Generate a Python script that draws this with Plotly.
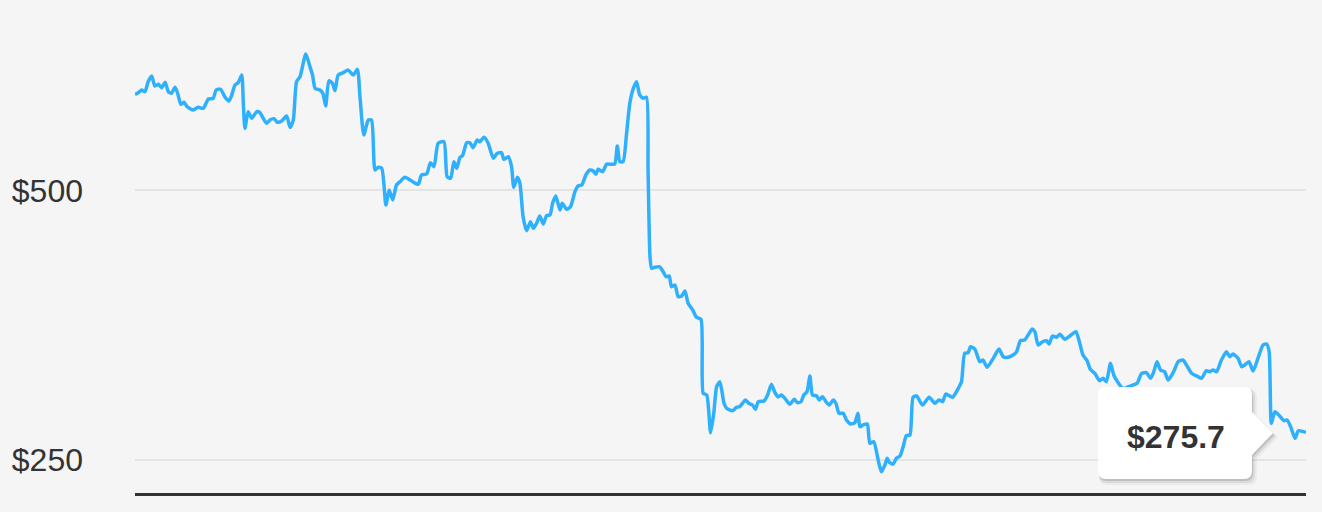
import plotly.graph_objects as go

# price history (day index, closing price in $)
days = [0.0, 1.0, 2.1, 3.1, 4.1, 5.2, 6.2, 7.3, 8.3, 9.4, 10.4, 11.4, 12.5, 13.3, 14.3, 15.3, 16.3, 18.2, 19.7, 21.3,
        22.9, 24.4, 25.3, 26.7, 28.1, 29.3, 30.2, 31.2, 32.2, 33.3, 33.8, 34.3, 35.3, 36.4, 38.0, 39.0, 40.0, 41.1, 42.1, 43.4,
        44.4, 45.8, 47.3, 48.4, 49.4, 50.4, 51.5, 53.3, 54.6, 55.4, 56.2, 57.7, 58.6, 59.5, 60.5, 61.6, 62.4, 63.4, 65.0, 66.5,
        68.1, 69.4, 70.2, 71.4, 72.8, 73.8, 74.9, 75.9, 77.0, 78.3, 79.3, 80.4, 81.6, 82.7, 84.2, 86.3, 88.4, 89.4, 91.0, 92.2,
        93.3, 94.6, 96.4, 97.4, 98.5, 99.5, 100.4, 101.4, 102.2, 103.5, 104.5, 105.5, 106.8, 107.6, 108.9, 110.2, 111.8, 113.0, 114.4, 115.1,
        116.5, 117.5, 118.2, 119.3, 120.1, 121.1, 122.2, 123.4, 124.3, 125.3, 126.3, 127.4, 128.4, 129.5, 130.3, 131.3, 132.6, 133.3, 134.7, 135.9,
        137.3, 138.3, 139.4, 140.7, 141.9, 143.0, 143.8, 144.5, 145.9, 147.2, 148.4, 149.7, 150.5, 151.3, 152.3, 153.4, 154.4, 155.5, 156.5, 157.5,
        158.6, 159.6, 160.1, 160.7, 161.2, 162.2, 163.6, 164.8, 165.7, 166.7, 167.4, 168.5, 169.5, 170.6, 171.6, 172.6, 174.0, 175.2, 176.6, 177.3,
        178.4, 179.6, 180.6, 181.5, 182.5, 183.8, 184.6, 186.5, 187.7, 188.7, 190.5, 191.5, 192.7, 193.6, 194.5, 196.3, 197.4, 198.6, 199.7, 200.7,
        201.7, 202.8, 204.3, 205.7, 206.7, 207.8, 208.7, 209.7, 210.6, 211.4, 212.7, 213.5, 214.5, 215.6, 216.6, 217.9, 218.7, 219.7, 221.0, 222.0,
        223.3, 224.6, 225.6, 226.2, 227.2, 228.5, 229.3, 230.5, 231.9, 232.9, 234.0, 234.7, 235.5, 236.6, 237.6, 238.7, 239.7, 240.7, 241.8, 242.8,
        243.9, 245.7, 247.8, 249.6, 250.9, 252.0, 253.0, 255.1, 256.9, 257.9, 258.9, 260.0, 260.7, 262.1, 263.6, 264.6, 265.9, 267.8, 269.6, 270.9,
        272.4, 274.0, 275.1, 276.3, 277.6, 278.7, 280.0, 280.8, 281.8, 283.2, 284.4, 285.2, 286.3, 287.5, 288.6, 290.1, 291.7, 293.6, 294.8, 295.8,
        297.1, 298.1, 299.5, 301.0, 302.1, 303.1, 304.4, 305.4, 306.8, 308.2, 309.8, 311.5, 312.7, 314.1, 315.6, 316.9, 317.9, 318.9, 320.0, 321.3,
        322.4, 324.1, 325.5, 327.0, 328.1, 329.7, 331.7, 332.8, 334.3, 335.4, 336.4, 337.5, 339.0, 340.6, 341.6, 342.6, 344.2, 345.3, 346.3, 347.6,
        348.9, 350.4, 352.0, 353.1, 353.9, 354.6, 355.7, 357.2, 358.5, 359.5, 360.6, 362.0, 363.0, 364.6, 365.4]

prices = [589.2, 590.7, 593.2, 591.6, 600.9, 606.2, 596.9, 598.5, 595.4, 600.4, 591.6, 590.2, 595.7, 590.2, 580.0, 581.8, 577.7, 574.7, 577.2, 576.2,
          584.9, 585.5, 593.2, 593.9, 586.5, 583.0, 588.6, 597.9, 600.0, 607.1, 580.9, 557.7, 573.1, 567.0, 573.1, 572.2, 567.0, 562.3, 565.4, 566.6,
          563.3, 564.5, 569.1, 558.6, 565.4, 600.9, 605.6, 626.6, 614.8, 607.1, 594.8, 593.2, 590.2, 578.4, 601.8, 599.4, 592.6, 607.1, 609.3, 611.8,
          607.1, 612.4, 587.0, 551.5, 565.4, 565.4, 519.0, 521.5, 520.6, 486.5, 500.5, 491.2, 505.1, 508.2, 512.2, 508.8, 505.8, 514.4, 515.3, 525.8,
          522.1, 543.8, 545.3, 512.8, 511.3, 526.7, 520.6, 530.8, 532.3, 544.3, 544.3, 539.7, 546.8, 545.3, 549.3, 543.8, 529.9, 534.5, 535.1, 528.9,
          531.4, 522.1, 503.0, 512.2, 506.7, 475.7, 462.7, 471.1, 464.9, 469.6, 476.3, 468.9, 476.6, 477.3, 488.1, 494.9, 481.9, 488.1, 482.6, 485.0,
          498.9, 504.2, 505.1, 514.4, 519.0, 518.1, 515.0, 519.7, 517.4, 524.6, 524.3, 524.6, 541.3, 526.7, 526.7, 553.1, 580.9, 594.8, 600.9, 588.6,
          585.5, 586.5, 519.0, 438.6, 427.8, 428.8, 429.3, 424.7, 420.0, 420.7, 410.8, 412.3, 401.5, 402.1, 406.8, 395.4, 389.2, 382.4, 380.5, 311.9,
          310.3, 275.3, 293.3, 318.0, 322.6, 302.6, 298.0, 295.7, 298.9, 299.5, 305.7, 302.6, 301.0, 297.0, 304.1, 304.7, 310.3, 320.2, 312.4, 308.7,
          310.3, 307.2, 301.7, 306.3, 303.2, 304.1, 310.3, 313.4, 327.9, 310.3, 309.4, 305.7, 308.7, 304.1, 301.0, 305.7, 302.6, 293.3, 293.3, 287.1,
          283.4, 284.6, 293.3, 280.9, 282.5, 283.4, 265.5, 267.0, 250.0, 239.2, 245.4, 251.6, 247.5, 246.3, 251.6, 253.7, 262.4, 272.6, 273.2, 308.2,
          309.4, 301.0, 308.2, 302.6, 305.7, 304.1, 311.2, 308.2, 316.5, 322.6, 349.0, 349.5, 355.1, 352.7, 341.2, 342.8, 336.0, 344.3, 353.0, 345.8,
          345.3, 347.4, 350.5, 360.7, 361.3, 366.0, 371.5, 369.0, 356.7, 359.7, 360.7, 357.6, 365.0, 363.8, 366.6, 362.0, 365.0, 369.0, 358.3, 347.4,
          342.1, 334.1, 330.4, 323.6, 325.8, 322.6, 339.7, 328.9, 321.7, 316.5, 317.7, 319.6, 321.2, 330.4, 331.0, 325.8, 331.9, 341.2, 333.5, 331.9,
          324.2, 331.9, 341.2, 342.8, 338.1, 330.4, 327.3, 325.8, 332.9, 331.9, 333.5, 331.9, 342.8, 350.5, 345.8, 348.3, 344.3, 336.6, 338.1, 341.2,
          332.6, 344.3, 356.7, 357.6, 350.5, 284.0, 294.8, 290.8, 286.5, 287.1, 280.9, 270.1, 277.2, 276.3, 275.7]

tick_vals = [250, 500]
tick_text = ['$250', '$500']
tooltip_text = '$275.7'

W, H = 1322, 512
L, R, T, B = 135, 16, 0, 19
PW, PH = W - L - R, H - T - B


def px(x):
    return (x - L) / PW


def py(y):
    return (H - B - y) / PH


def tip_path(dx=0, dy=0, grow=0):
    # rounded tooltip box with a pointer on its right side, in screen pixels
    x0, x1, y0, y1 = 1098 - grow, 1252 + grow, 387 - grow, 479 + grow
    pts = [('M', x0 + 8, y0), ('L', x1 - 8, y0), ('Q', x1, y0, x1, y0 + 8), ('L', x1, 412),
           ('L', 1273 + grow, 433), ('L', x1, 455), ('L', x1, y1 - 8), ('Q', x1, y1, x1 - 8, y1),
           ('L', x0 + 8, y1), ('Q', x0, y1, x0, y1 - 8), ('L', x0, y0 + 8), ('Q', x0, y0, x0 + 8, y0)]
    out = []
    for p in pts:
        cmd, coords = p[0], p[1:]
        xy = []
        for i in range(0, len(coords), 2):
            xy.append(f'{px(coords[i] + dx):.5f},{py(coords[i + 1] + dy):.5f}')
        out.append(cmd + ' '.join(xy))
    return ' '.join(out) + ' Z'


fig = go.Figure(go.Scatter(
    x=days, y=prices, mode='lines',
    line=dict(color='#2fb0fc', width=3.5, shape='spline', smoothing=0.6),
    hoverinfo='skip'
))

shapes = []
for dx, dy, g, a in [(3, 4, 2, 0.04), (2, 3, 1, 0.07), (1, 2, 0, 0.12)]:
    shapes.append(dict(type='path', xref='paper', yref='paper', path=tip_path(dx, dy, g),
                       fillcolor=f'rgba(0,0,0,{a})', line=dict(width=0), layer='above'))
shapes.append(dict(type='path', xref='paper', yref='paper', path=tip_path(),
                   fillcolor='white', line=dict(width=0), layer='above'))

fig.update_layout(
    width=W, height=H,
    margin=dict(l=L, r=R, t=T, b=B),
    paper_bgcolor='#f5f5f5', plot_bgcolor='#f5f5f5',
    showlegend=False,
    shapes=shapes,
    annotations=[dict(x=px(1176), y=py(437), xref='paper', yref='paper', text=f'<b>{tooltip_text}</b>',
                      xanchor='center', yanchor='middle', showarrow=False,
                      font=dict(family='Liberation Sans, Arial', size=32, color='#333333'))],
    xaxis=dict(range=[0, 365.4], showgrid=False, zeroline=False, showticklabels=False,
               showline=True, linecolor='#333333', linewidth=3, fixedrange=True),
    yaxis=dict(range=[219.4, 676.7], tickvals=tick_vals, ticktext=tick_text,
               showgrid=True, gridcolor='#e4e4e4', gridwidth=2, zeroline=False,
               ticks='', ticklabelstandoff=51,
               tickfont=dict(family='Liberation Sans, Arial', size=32, color='#333333'), fixedrange=True),
)

fig.write_html('out.html', config={'displayModeBar': False},
               post_script="document.body.style.margin='0';document.body.style.background='#f5f5f5';")
